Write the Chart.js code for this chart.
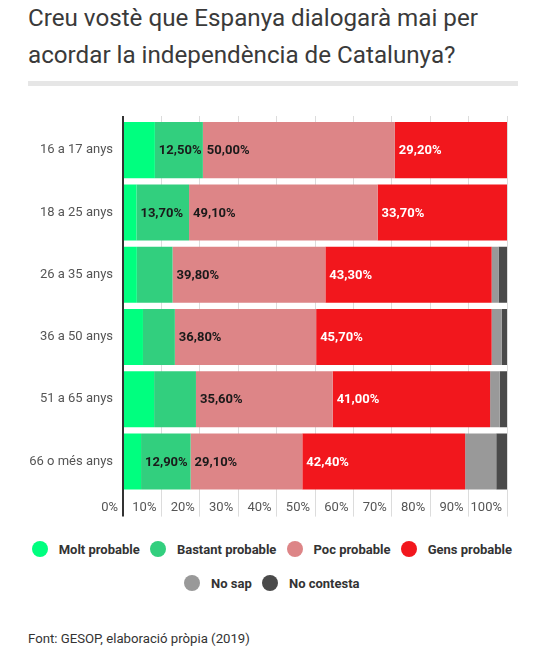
<!DOCTYPE html>
<html lang="ca">
<head>
<meta charset="utf-8">
<title>Creu vostè que Espanya dialogarà mai per acordar la independència de Catalunya?</title>
<script src="https://cdn.jsdelivr.net/npm/chart.js@4.4.1/dist/chart.umd.min.js"></script>
<style>
    html, body { margin: 0; padding: 0; background: #fff; }
    body { width: 545px; height: 651px; position: relative; overflow: hidden; font-family: Roboto, 'Noto Sans', sans-serif; }
    .title { position: absolute; left: 28px; top: 0; margin: 0; font-size: 24.2px; line-height: 36.6px; font-weight: 400; color: #3a3a3a; white-space: nowrap; }
    .rule { position: absolute; left: 28px; top: 81px; width: 490px; height: 5px; background: #e6e6e6; }
    .chart-box { position: absolute; left: 0; top: 110px; width: 545px; height: 420px; }
    .legend { position: absolute; left: 22px; top: 541px; width: 500px; display: flex; flex-wrap: wrap; justify-content: center; column-gap: 10.5px; row-gap: 18.3px; }
    .legend-item { display: flex; align-items: center; height: 16px; font-size: 13px; font-weight: 700; color: #333; }
    .legend-dot { width: 16px; height: 16px; border-radius: 50%; margin-right: 10.7px; }
    .source { position: absolute; left: 28px; top: 631px; font-size: 13.2px; line-height: 16px; color: #333; }
</style>
</head>
<body>
<h1 class="title">Creu vostè que Espanya dialogarà mai per<br>acordar la independència de Catalunya?</h1>
<div class="rule"></div>
<div class="chart-box"><canvas id="chart"></canvas></div>
<div class="legend" id="legend"></div>
<div class="source">Font: GESOP, elaboració pròpia (2019)</div>

<script>
// Age groups and answer series (percentages)
const categories = ['16 a 17 anys', '18 a 25 anys', '26 a 35 anys', '36 a 50 anys', '51 a 65 anys', '66 o més anys'];
const seriesNames = ['Molt probable', 'Bastant probable', 'Poc probable', 'Gens probable', 'No sap', 'No contesta'];

const moltProbable    = [8.3, 3.5, 3.6, 5.2, 8.1, 4.7];
const bastantProbable = [12.5, 13.7, 9.3, 8.3, 10.9, 12.9];
const pocProbable     = [50.0, 49.1, 39.8, 36.8, 35.6, 29.1];
const gensProbable    = [29.2, 33.7, 43.3, 45.7, 41.0, 42.4];
const noSap           = [0, 0, 1.8, 2.6, 2.5, 8.1];
const noContesta      = [0, 0, 2.2, 1.4, 1.9, 2.8];

const xTickValues = [0, 10, 20, 30, 40, 50, 60, 70, 80, 90, 100];

const palette = ['#00ff7f', '#32cf7e', '#dd8587', '#f2171d', '#999999', '#4a4a4a'];
const labelColors = ['#1a1a1a', '#1a1a1a', '#1a1a1a', '#ffffff', '#1a1a1a', '#ffffff'];
const LABEL_MIN = 12; // smaller segments carry no value label

const seriesValues = [moltProbable, bastantProbable, pocProbable, gensProbable, noSap, noContesta];

const datasets = seriesNames.map((name, i) => ({
    label: name,
    data: seriesValues[i],
    backgroundColor: palette[i],
    labelColor: labelColors[i],
    borderWidth: 0,
    barPercentage: 0.9,
    categoryPercentage: 1.0
}));

// value labels, left-aligned inside each segment
const barLabels = {
    id: 'barLabels',
    afterDatasetsDraw(chart) {
        const { ctx } = chart;
        ctx.save();
        ctx.font = "bold 13px Roboto, sans-serif";
        ctx.textAlign = 'left';
        ctx.textBaseline = 'middle';
        chart.data.datasets.forEach((ds, i) => {
            const meta = chart.getDatasetMeta(i);
            meta.data.forEach((bar, j) => {
                const v = ds.data[j];
                if (v < LABEL_MIN) return;
                ctx.fillStyle = ds.labelColor;
                ctx.fillText(v.toFixed(2).replace('.', ',') + '%', Math.min(bar.base, bar.x) + 4, bar.y + 1);
            });
        });
        ctx.restore();
    }
};

const gridColor = ctx => ctx.index === 0 ? '#333333' : '#dcdcdc';
const gridWidth = ctx => ctx.index === 0 ? 2 : 1;

new Chart(document.getElementById('chart'), {
    type: 'bar',
    data: { labels: categories, datasets: datasets },
    options: {
        indexAxis: 'y',
        responsive: true,
        maintainAspectRatio: false,
        animation: false,
        layout: { padding: { top: 6, right: 38, bottom: 0, left: 0 } },
        plugins: {
            legend: { display: false },
            tooltip: { enabled: false }
        },
        scales: {
            x: {
                stacked: true,
                min: 0,
                max: 100,
                afterBuildTicks: s => { s.ticks = xTickValues.map(v => ({ value: v })); },
                afterFit: s => { s.height = 37.4; s.paddingLeft = 0; s.paddingRight = 0; },
                ticks: {
                    align: 'end',
                    labelOffset: -5,
                    padding: -17,
                    color: '#555',
                    font: { family: 'Roboto', size: 13 },
                    callback: v => v + '%'
                },
                grid: { color: gridColor, lineWidth: gridWidth, tickLength: 24 },
                border: { display: false }
            },
            xTop: {
                type: 'linear',
                position: 'top',
                min: 0,
                max: 100,
                afterBuildTicks: s => { s.ticks = xTickValues.map(v => ({ value: v })); },
                afterFit: s => { s.height = 3; s.paddingLeft = 0; s.paddingRight = 0; },
                ticks: { display: false },
                grid: { drawOnChartArea: false, color: gridColor, lineWidth: gridWidth, tickLength: 3 },
                border: { display: false }
            },
            y: {
                stacked: true,
                z: 1,
                afterFit: s => { s.width = 123; s.paddingTop = 0; s.paddingBottom = 0; },
                ticks: {
                    padding: 10,
                    color: '#555',
                    font: { family: 'Roboto', size: 13 }
                },
                grid: { display: false, drawTicks: false },
                border: { display: true, color: '#333333', width: 2 }
            }
        }
    },
    plugins: [barLabels]
});

// legend built from the same series
document.getElementById('legend').innerHTML = datasets.map(ds => `
    <div class="legend-item"><span class="legend-dot" style="background:${ds.backgroundColor}"></span>${ds.label}</div>
`).join('');
</script>
</body>
</html>
